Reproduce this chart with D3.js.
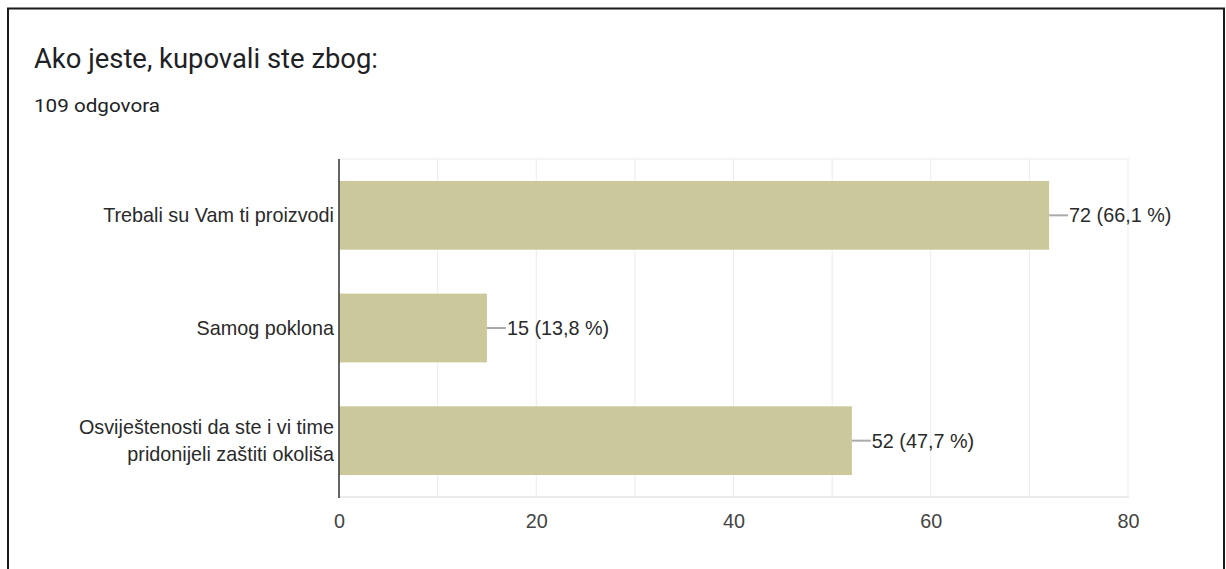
<!DOCTYPE html>
<html><head><meta charset="utf-8">
<script src="https://cdn.jsdelivr.net/npm/d3@7"></script>
<style>body{margin:0;background:#fff;}svg{display:block;}</style>
</head><body>
<svg id="c" width="1226" height="569"></svg>
<script>
const title = "Ako jeste, kupovali ste zbog:";
const subtitle = "109 odgovora";
const categories = [["Trebali su Vam ti proizvodi"], ["Samog poklona"], ["Osviještenosti da ste i vi time", "pridonijeli zaštiti okoliša"]];
const counts = [72, 15, 52];
const percents = ["66,1", "13,8", "47,7"];
const xTicks = [0, 20, 40, 60, 80];
const gridValues = [0, 10, 20, 30, 40, 50, 60, 70, 80];

const svg = d3.select("#c");
// frame
svg.append("rect").attr("x", 8).attr("y", 8.5).attr("width", 1216).attr("height", 600)
  .attr("fill", "#fff").attr("stroke", "#1a1a1a").attr("stroke-width", 2);

svg.append("text").attr("x", 34).attr("y", 68).text(title)
  .attr("font-family", "Roboto, 'Open Sans', sans-serif").attr("font-size", 27).attr("fill", "#202124")
  .attr("textLength", 344).attr("lengthAdjust", "spacingAndGlyphs");
svg.append("text").attr("x", 34).attr("y", 112).text(subtitle)
  .attr("font-family", "Roboto, sans-serif").attr("font-size", 18).attr("fill", "#202124")
  .attr("textLength", 126).attr("lengthAdjust", "spacingAndGlyphs");

const x = d3.scaleLinear().domain([0, 80]).range([339, 1128]);
const y = d3.scaleBand().domain(d3.range(categories.length)).range([159, 497]).paddingInner(0.39).paddingOuter(0.195);

const font = "'Liberation Sans', Arial, sans-serif";
const fs = 19.8;
// grid
svg.append("g").selectAll("line").data(gridValues).join("line")
  .attr("x1", d => x(d)).attr("x2", d => x(d)).attr("y1", 159).attr("y2", 497)
  .attr("stroke", "#ebebeb").attr("stroke-width", 1);
svg.append("line").attr("x1", 339).attr("x2", 1129).attr("y1", 159).attr("y2", 159).attr("stroke", "#ebebeb");
svg.append("line").attr("x1", 339).attr("x2", 1129).attr("y1", 497).attr("y2", 497).attr("stroke", "#ebebeb").attr("stroke-width", 2);

// bars
svg.append("g").selectAll("rect").data(counts).join("rect")
  .attr("x", x(0)).attr("y", (d, i) => y(i)).attr("width", d => x(d) - x(0)).attr("height", y.bandwidth())
  .attr("fill", "#cbc99b");

// axis line
svg.append("line").attr("x1", 339).attr("x2", 339).attr("y1", 159).attr("y2", 498).attr("stroke", "#333").attr("stroke-width", 1.5);

// x axis
const xAxis = d3.axisBottom(x).tickValues(xTicks).tickSize(0).tickPadding(0);
const gx = svg.append("g").attr("transform", "translate(0,521)").call(xAxis);
gx.select(".domain").remove();
gx.selectAll("text").attr("font-family", font).attr("font-size", fs).attr("fill", "#444").attr("dy", "0.35em");

// category labels
const lab = svg.append("g").selectAll("text").data(categories).join("text")
  .attr("text-anchor", "end").attr("font-family", font).attr("font-size", fs).attr("fill", "#2a2a2a");
lab.each(function(d, i) {
  const cy = y(i) + y.bandwidth() / 2;
  const n = d.length, lh = 27;
  d3.select(this).selectAll("tspan").data(d).join("tspan")
    .attr("x", 334).attr("y", (t, j) => cy + (j - (n - 1) / 2) * lh).attr("dy", "0.35em").text(t => t);
});

// value labels
const vg = svg.append("g");
counts.forEach((c, i) => {
  const cy = y(i) + y.bandwidth() / 2;
  vg.append("line").attr("x1", x(c)).attr("x2", x(c) + 19).attr("y1", cy).attr("y2", cy)
    .attr("stroke", "#aaa").attr("stroke-width", 2);
  vg.append("text").attr("x", x(c) + 20).attr("y", cy).attr("dy", "0.35em")
    .attr("font-family", font).attr("font-size", fs).attr("fill", "#2a2a2a")
    .text(`${c} (${percents[i]} %)`);
});
</script>
</body></html>
